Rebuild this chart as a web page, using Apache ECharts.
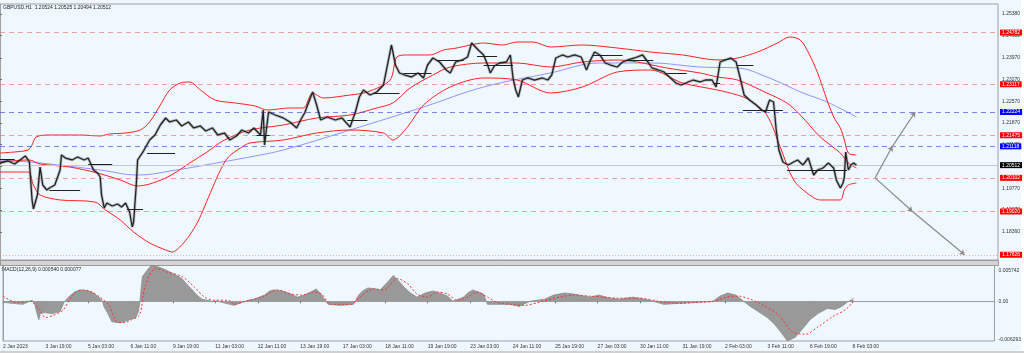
<!DOCTYPE html>
<html>
<head>
<meta charset="utf-8">
<title>GBPUSD,H1</title>
<script src="https://cdn.jsdelivr.net/npm/echarts@6/dist/echarts.min.js"></script>
<style>
html, body { margin: 0; padding: 0; background: #f0f8ff; }
#chart { width: 1024px; height: 353px; }
</style>
</head>
<body>
<div id="chart"></div>
<script>
/******************** data ********************/
var headerText = 'GBPUSD,H1  1.20524 1.20525 1.20494 1.20512';
var macdText = 'MACD(12,26,9) 0.000540 0.000077';

// x axis: hourly bar index
var timeTickBars = [0, 32, 64, 96, 128, 160, 192, 224, 256, 288, 320, 352, 384, 416, 448, 480, 512, 544, 576, 608, 640];
var timeTickLabels = ['2 Jan 2023', '3 Jan 19:00', '5 Jan 03:00', '6 Jan 11:00', '9 Jan 19:00', '11 Jan 03:00',
  '12 Jan 11:00', '13 Jan 19:00', '17 Jan 03:00', '18 Jan 11:00', '19 Jan 19:00', '23 Jan 03:00',
  '24 Jan 11:00', '25 Jan 19:00', '27 Jan 03:00', '30 Jan 11:00', '31 Jan 19:00', '2 Feb 03:00',
  '3 Feb 11:00', '6 Feb 19:00', '8 Feb 03:00'];

var priceTicks = [1.25380, 1.24680, 1.23970, 1.23270, 1.22570, 1.21870, 1.21170, 1.20470, 1.19770, 1.19070, 1.18360];
var macdTickValues = [0.0048, 0, -0.0060];
var macdTickLabels = ['0.005742', '0.00', '-0.006293'];

// close prices [bar, price]
var priceClose = [[0,1.20581],[6,1.20646],[11,1.20549],[15,1.20678],[19,1.20807],[22,1.20614],[24,1.19390],[25,1.19100],
  [28,1.19551],[30,1.20452],[32,1.19873],[35,1.19712],[37,1.19776],[41,1.19873],[45,1.20356],[46,1.20839],[49,1.20742],
  [54,1.20678],[58,1.20775],[63,1.20678],[66,1.20742],[70,1.20356],[73,1.20259],[75,1.20130],[76,1.19551],[78,1.19132],
  [80,1.19293],[84,1.19196],[88,1.19261],[91,1.19164],[94,1.19293],[97,1.19003],[99,1.18520],[100,1.18681],[102,1.19873],
  [103,1.20678],[107,1.20936],[112,1.21322],[116,1.21483],[120,1.21805],[124,1.22031],[127,1.21902],[132,1.21966],
  [136,1.21773],[141,1.21902],[145,1.21709],[150,1.21773],[154,1.21612],[159,1.21709],[163,1.21483],[168,1.21547],
  [172,1.21322],[177,1.21451],[181,1.21644],[186,1.21547],[190,1.21709],[195,1.21483],[197,1.22288],[198,1.21161],
  [201,1.22224],[206,1.22127],[212,1.22031],[217,1.21902],[222,1.21709],[225,1.21966],[228,1.22192],[234,1.22868],
  [237,1.22449],[240,1.21966],[245,1.22063],[251,1.21966],[256,1.22031],[262,1.21741],[266,1.22224],[269,1.22707],
  [272,1.22932],[277,1.22771],[282,1.22868],[287,1.23093],[290,1.23737],[293,1.24382],[296,1.23737],[299,1.23480],
  [303,1.23415],[308,1.23351],[313,1.23480],[317,1.23319],[320,1.23737],[324,1.23963],[329,1.23834],[334,1.23576],
  [337,1.23480],[341,1.23834],[346,1.23899],[350,1.23995],[353,1.24446],[358,1.24221],[362,1.24060],[365,1.23737],
  [367,1.23480],[370,1.23705],[374,1.23802],[379,1.23834],[382,1.24060],[384,1.23319],[386,1.22932],[388,1.22707],
  [391,1.23254],[395,1.23319],[400,1.23254],[406,1.23319],[410,1.23254],[413,1.23415],[416,1.23963],[421,1.24060],
  [425,1.23995],[430,1.24060],[435,1.23995],[439,1.23576],[442,1.23899],[445,1.24156],[449,1.24060],[453,1.23802],
  [457,1.23737],[462,1.23673],[466,1.23834],[470,1.23899],[475,1.23963],[481,1.24060],[485,1.23834],[488,1.23641],
  [493,1.23576],[497,1.23512],[501,1.23351],[506,1.23158],[510,1.23093],[515,1.23190],[519,1.23254],[524,1.23190],
  [528,1.23254],[533,1.23254],[536,1.23029],[539,1.23834],[543,1.23899],[547,1.23963],[551,1.23834],[554,1.23319],
  [557,1.22771],[561,1.22610],[566,1.22449],[570,1.22288],[573,1.22224],[576,1.22610],[579,1.22546],[581,1.21644],
  [583,1.21000],[586,1.20614],[590,1.20517],[594,1.20614],[597,1.20678],[601,1.20517],[605,1.20742],[609,1.20195],
  [612,1.20356],[616,1.20420],[620,1.20581],[624,1.20420],[626,1.20034],[629,1.19776],[631,1.19937],[632,1.20130],
  [633,1.20936],[635,1.20356],[637,1.20517],[639,1.20581],[641,1.20512]];

// bollinger bands
var bbUpper = [[0,1.20903],[11,1.20936],[21,1.21000],[24,1.21161],[27,1.21419],[37,1.21483],[60,1.21483],[75,1.21451],
  [82,1.21515],[94,1.21547],[105,1.21644],[112,1.21902],[120,1.22449],[127,1.22932],[135,1.23158],[142,1.23190],
  [150,1.22932],[161,1.22610],[176,1.22514],[191,1.22417],[200,1.22288],[217,1.22353],[227,1.22353],[234,1.22836],
  [242,1.22675],[262,1.22771],[275,1.22868],[292,1.23254],[297,1.23995],[305,1.24060],[322,1.24060],[332,1.24221],
  [342,1.24285],[352,1.24382],[362,1.24446],[376,1.24382],[387,1.24478],[399,1.24478],[412,1.24317],[436,1.24382],
  [462,1.24285],[487,1.24156],[511,1.24060],[537,1.23899],[552,1.23963],[567,1.24156],[582,1.24446],[591,1.24639],
  [599,1.24543],[606,1.24060],[612,1.23480],[619,1.22610],[624,1.22063],[629,1.21709],[632,1.21322],[635,1.20903],
  [641,1.20839]];
var bbMiddle = [[0,1.20614],[22,1.20678],[30,1.20549],[52,1.20452],[73,1.20259],[90,1.20034],[103,1.19841],[112,1.19905],
  [124,1.20098],[132,1.20291],[142,1.20581],[155,1.20936],[168,1.21322],[187,1.21644],[212,1.21805],[237,1.22031],
  [262,1.22127],[282,1.22353],[294,1.22514],[307,1.22997],[324,1.23415],[337,1.23673],[362,1.23802],[387,1.23802],
  [412,1.23673],[436,1.23834],[462,1.23899],[477,1.23834],[499,1.23641],[524,1.23480],[537,1.23351],[552,1.23254],
  [574,1.22836],[589,1.22514],[599,1.22127],[614,1.21419],[629,1.20903],[635,1.20581],[641,1.20420]];
var bbLower = [[0,1.20291],[21,1.20291],[25,1.19873],[30,1.19551],[45,1.19390],[71,1.19325],[79,1.19068],[90,1.18746],
  [100,1.18359],[112,1.18005],[124,1.17779],[129,1.17715],[136,1.17940],[142,1.18262],[148,1.18681],[153,1.19164],
  [159,1.19776],[165,1.20356],[171,1.20775],[180,1.21064],[187,1.21225],[212,1.21322],[237,1.21547],[262,1.21644],
  [287,1.21547],[294,1.21322],[305,1.21741],[317,1.22449],[337,1.23029],[362,1.23319],[387,1.23254],[412,1.22836],
  [436,1.23029],[462,1.23512],[487,1.23576],[511,1.23158],[537,1.22932],[552,1.22771],[561,1.22610],[574,1.22127],
  [584,1.21097],[594,1.20034],[604,1.19615],[614,1.19390],[629,1.19390],[632,1.19712],[635,1.19873],[641,1.19937]];

// slow moving average
var maLine = [[0,1.20678],[30,1.20581],[75,1.20356],[103,1.20195],[132,1.20356],[162,1.20581],[187,1.20775],[212,1.21000],
  [262,1.21644],[317,1.22385],[362,1.23029],[412,1.23480],[449,1.23802],[487,1.23802],[524,1.23673],[552,1.23641],
  [574,1.23351],[601,1.22836],[619,1.22546],[641,1.22063]];

// horizontal levels
var levelsRed = [1.24782, 1.23117, 1.21475, 1.20102, 1.19020];
var levelsBlue = [1.22224, 1.21118];
var lastPrice = 1.20512;
var targetLow = 1.17626;

// short black range segments: [fromBar, toBar, price]
var rangeSegs = [[0,11,1.20710],[37,60,1.19712],[66,84,1.20549],[95,107,1.19100],[110,131,1.20903],[192,202,1.21483],
  [260,275,1.21966],[279,299,1.22836],[302,323,1.23480],[327,347,1.23899],[357,372,1.24027],[362,384,1.23737],
  [444,466,1.24060],[469,489,1.23899],[499,514,1.23480],[534,539,1.23158],[552,564,1.23737],[556,586,1.22288],
  [589,634,1.20356]];

// projection arrows [bar, price]
var arrowUp = [[655,1.20102],[668,1.21118],[685,1.22224]];
var arrowDown = [[655,1.20102],[683,1.19020],[722,1.17626]];

// MACD histogram and signal [bar, value]
var macdHist = [[0,-0.00016],[7,-0.00033],[15,-0.00049],[20,0],[22,0.00016],[24,-0.00049],[25,-0.00146],[27,-0.00293],
  [28,-0.00195],[31,-0.00179],[37,-0.00195],[43,-0.00163],[46,-0.00016],[50,0.00081],[54,0.00146],[58,0.00179],
  [64,0.00163],[67,0.00146],[73,0.00049],[75,0],[76,-0.00081],[79,-0.00195],[82,-0.00325],[88,-0.00341],[91,-0.00325],
  [95,-0.00293],[100,-0.0026],[102,-0.00163],[103,-0.00033],[105,0.0039],[109,0.00504],[112,0.00574],[118,0.00537],
  [122,0.00504],[125,0.00472],[131,0.00407],[135,0.00358],[138,0.00276],[142,0.00195],[146,0.00098],[150,0.00033],
  [157,0],[162,0],[168,-0.00033],[174,-0.00065],[180,-0.00016],[185,0.00016],[189,0.00033],[193,0.00065],[197,0.00098],
  [201,0.00163],[204,0.00179],[210,0.00163],[213,0.00146],[217,0.00114],[222,0.00065],[227,0.00098],[232,0.00146],
  [236,0.00195],[240,0.00098],[241,0.00065],[245,-0.00049],[254,-0.00065],[264,-0.00049],[268,0.00098],[271,0.00163],
  [275,0.00211],[281,0.00195],[284,0.00179],[290,0.00309],[294,0.00407],[298,0.00325],[302,0.00228],[307,0.0013],
  [312,0.00065],[318,0.0013],[324,0.00163],[329,0.0013],[335,0.00081],[339,0],[343,0.00033],[347,0.00065],[350,0.0013],
  [354,0.00179],[358,0.00146],[362,0.00114],[365,-0.00049],[374,-0.00049],[382,-0.00049],[389,-0.00081],[397,0],
  [408,0.00033],[415,0.00098],[423,0.0013],[430,0.00114],[442,0.00065],[449,0.00098],[457,0.00049],[464,0.00033],
  [475,0.00065],[487,0.00016],[498,-0.00049],[509,-0.00033],[524,-0.00016],[535,0],[540,0.00081],[546,0.0013],
  [552,0.00098],[558,0],[563,-0.00081],[569,-0.00163],[576,-0.0026],[581,-0.00358],[586,-0.00488],[591,-0.00629],
  [597,-0.00569],[603,-0.00423],[608,-0.00293],[614,-0.00195],[621,-0.00114],[627,-0.0013],[632,-0.00081],
  [636,-0.00016],[640,0.00033],[641,0.00054]];
var macdSignal = [[0,0.00081],[10,-0.00016],[20,0],[28,-0.00146],[32,-0.0026],[37,-0.00228],[45,-0.00146],[50,0.00016],
  [55,0.00146],[60,0.00179],[67,0.00146],[75,0.00033],[80,-0.00065],[85,-0.00309],[90,-0.00341],[97,-0.00293],
  [103,-0.00211],[107,0.00228],[115,0.0052],[122,0.00472],[135,0.0039],[144,0.00228],[152,0.00065],[159,0.00016],
  [170,0.00016],[174,-0.00049],[185,0.00016],[195,0.00065],[207,0.00179],[217,0.00114],[225,0.00098],[234,0.00146],
  [240,0.00114],[247,-0.00049],[262,-0.00049],[269,0.00065],[279,0.00195],[287,0.00179],[297,0.00358],[305,0.00276],
  [312,0.00114],[320,0.00065],[327,0.00146],[335,0.00114],[342,0.00016],[350,0.00065],[357,0.00146],[365,0.00065],
  [372,-0.00016],[382,-0.00049],[393,-0.00065],[404,-0.00016],[419,0.00065],[430,0.00098],[442,0.00081],[453,0.00065],
  [464,0.00049],[479,0.00049],[494,0],[509,-0.00033],[524,-0.00016],[535,0],[545,0.00065],[554,0.00081],[563,0.00033],
  [573,-0.00065],[584,-0.00211],[595,-0.00488],[605,-0.0052],[614,-0.00407],[625,-0.00244],[635,-0.0013],[641,0.00008]];

/******************** chart ********************/
var FONT = 'Liberation Sans';
var chartDom = document.getElementById('chart');
var myChart = echarts.init(chartDom);

function levelItem(v, color, type, tagColor) {
    return {
        yAxis: v,
        lineStyle: { color: color, type: type, width: 1 },
        label: {
            show: true, position: 'end', distance: 2,
            formatter: v.toFixed(5),
            backgroundColor: tagColor, color: '#fff',
            fontFamily: FONT, fontSize: 5, lineHeight: 6, padding: [0, 2, 0, 2]
        }
    };
}

var levelData = [];
levelsRed.forEach(function (v) { levelData.push(levelItem(v, 'rgba(240,110,110,0.65)', [5, 4], '#ff0000')); });
levelsBlue.forEach(function (v) { levelData.push(levelItem(v, 'rgba(80,80,235,0.7)', [5, 4], '#0000ff')); });
levelData.push(levelItem(lastPrice, '#c8c8c8', 'solid', '#000000'));
levelData.push(levelItem(targetLow, 'rgba(240,120,120,0.6)', [1, 2], '#ff0000'));

var segData = rangeSegs.map(function (s) {
    return [{ coord: [s[0], s[2]] }, { coord: [s[1], s[2]] }];
});

var arrowData = [];
[arrowUp, arrowDown].forEach(function (a) {
    for (var i = 0; i < a.length - 1; i++) {
        arrowData.push([{ coord: a[i] }, { coord: a[i + 1] }]);
    }
});

var smallLabel = { fontFamily: FONT, fontSize: 5, color: '#333' };

var option = {
    animation: false,
    backgroundColor: '#f0f8ff',
    graphic: [
        { type: 'rect', left: 1021, top: 0, shape: { width: 3, height: 353 }, style: { fill: '#ffffff' } },
        { type: 'rect', left: 0, top: 260, shape: { width: 998, height: 5 }, style: { fill: '#d4d4d4', stroke: '#9a9a9a', lineWidth: 1 } },
        { type: 'rect', left: 0, top: 351, shape: { width: 1024, height: 2 }, style: { fill: '#d0d0d0' } },
        { type: 'text', left: 3, top: 5, style: { text: headerText, font: '5px ' + FONT, fill: '#222' } },
        { type: 'text', left: 2, top: 267, style: { text: macdText, font: '5px ' + FONT, fill: '#222' } }
    ],
    grid: [
        { left: 0, top: 4, width: 998, height: 256, show: true, borderColor: '#a0a0a0', borderWidth: 1, backgroundColor: '#f0f8ff' },
        { left: 0, top: 265, width: 998, height: 76, show: true, borderColor: '#a0a0a0', borderWidth: 1, backgroundColor: '#f0f8ff' }
    ],
    xAxis: [
        { gridIndex: 0, type: 'value', min: 0, max: 747, show: false },
        {
            gridIndex: 1, type: 'value', min: 0, max: 747,
            axisLine: { lineStyle: { color: '#a0a0a0' } },
            axisTick: { customValues: timeTickBars, length: 2, lineStyle: { color: '#707070' } },
            axisLabel: Object.assign({
                customValues: timeTickBars, align: 'left', margin: 3,
                formatter: function (v) { return timeTickLabels[timeTickBars.indexOf(v)] || ''; }
            }, smallLabel),
            splitLine: { show: false }
        }
    ],
    yAxis: [
        {
            gridIndex: 0, type: 'value', position: 'right', min: 1.17457, max: 1.25702,
            axisLine: { show: true, lineStyle: { color: '#a0a0a0' } },
            axisTick: { show: true, customValues: priceTicks, length: 2, lineStyle: { color: '#707070' } },
            axisLabel: Object.assign({
                customValues: priceTicks, margin: 4,
                formatter: function (v) { return v.toFixed(5); }
            }, smallLabel),
            splitLine: { show: false }
        },
        {
            gridIndex: 1, type: 'value', position: 'right', min: -0.006293, max: 0.005742,
            axisLine: { show: true, lineStyle: { color: '#a0a0a0' } },
            axisTick: { show: false },
            axisLabel: Object.assign({
                customValues: macdTickValues, margin: 4,
                formatter: function (v) { return macdTickLabels[macdTickValues.indexOf(v)] || ''; }
            }, smallLabel),
            splitLine: { show: false }
        }
    ],
    series: [
        {
            name: 'levels', type: 'line', data: [], xAxisIndex: 0, yAxisIndex: 0, z: 1,
            markLine: { silent: true, precision: 5, symbol: ['none', 'none'], data: levelData }
        },
        {
            name: 'MA', type: 'line', data: maLine, showSymbol: false, smooth: 0.4, z: 2,
            lineStyle: { color: '#8080ff', width: 1, opacity: 0.85 }
        },
        {
            name: 'BB upper', type: 'line', data: bbUpper, showSymbol: false, smooth: 0.3, z: 3,
            lineStyle: { color: '#ff2020', width: 1 }
        },
        {
            name: 'BB middle', type: 'line', data: bbMiddle, showSymbol: false, smooth: 0.3, z: 3,
            lineStyle: { color: '#ff2020', width: 1 }
        },
        {
            name: 'BB lower', type: 'line', data: bbLower, showSymbol: false, smooth: 0.3, z: 3,
            lineStyle: { color: '#ff2020', width: 1 }
        },
        {
            name: 'ranges', type: 'line', data: [], z: 4,
            markLine: { silent: true, precision: 5, symbol: ['none', 'none'], label: { show: false },
                lineStyle: { color: '#202020', type: 'solid', width: 1 }, data: segData }
        },
        {
            // gray shadow standing in for the bar high/low spread
            name: 'GBPUSD range', type: 'line', data: priceClose, showSymbol: false, z: 4,
            lineStyle: { color: 'rgba(70,70,70,0.3)', width: 3 }
        },
        {
            name: 'GBPUSD', type: 'line', data: priceClose, showSymbol: false, z: 5,
            lineStyle: { color: '#222222', width: 1.3 }
        },
        {
            name: 'arrows', type: 'line', data: [], z: 4,
            markLine: { silent: true, precision: 5, symbol: ['none', 'arrow'], symbolSize: 5, label: { show: false },
                lineStyle: { color: '#8a8a8a', type: 'solid', width: 1.2 }, data: arrowData }
        },
        {
            name: 'MACD', type: 'line', data: macdHist, xAxisIndex: 1, yAxisIndex: 1, showSymbol: false, z: 2,
            lineStyle: { color: '#8c8c8c', width: 0.8 },
            areaStyle: { color: '#999999', opacity: 1 }
        },
        {
            name: 'Signal', type: 'line', data: macdSignal, xAxisIndex: 1, yAxisIndex: 1, showSymbol: false, smooth: 0.3, z: 3,
            lineStyle: { color: '#ff3030', width: 1, type: [2, 2] }
        }
    ]
};

myChart.setOption(option);

window.addEventListener('resize', function () {
    myChart.resize();
});
</script>
</body>
</html>
